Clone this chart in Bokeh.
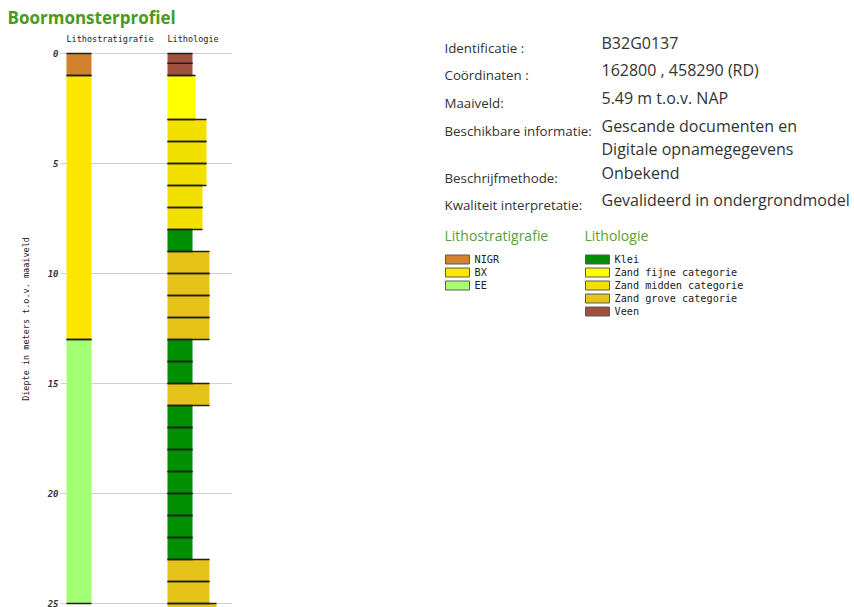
from bokeh.plotting import figure
from bokeh.layouts import row
from bokeh.models import Range1d, FixedTicker, ColumnDataSource
from bokeh.core.properties import value
from bokeh.embed import file_html
from bokeh.resources import INLINE

# ---------------- data ----------------
title_text = "Boormonsterprofiel"
col_headers = ["Lithostratigrafie", "Lithologie"]
y_label = "Diepte in meters t.o.v. maaiveld"
depth_ticks = [0, 5, 10, 15, 20, 25]

strat_units = ["NIGR", "BX", "EE"]
strat_colors = ["#d2822d", "#ffe600", "#a4ff74"]
strat_layer_unit = ["NIGR", "BX", "EE"]
strat_top = [0.0, 1.0, 13.0]
strat_bottom = [1.0, 13.0, 25.0]

litho_classes = ["Klei", "Zand fijne categorie", "Zand midden categorie",
                 "Zand grove categorie", "Veen"]
litho_colors = ["#008f00", "#ffff00", "#f2e000", "#e6c318", "#a0503f"]
litho_top = [0.0, 0.45, 1.0, 3.0, 4.0, 5.0, 6.0, 7.0, 8.0, 9.0, 10.0, 11.0, 12.0,
             13.0, 14.0, 15.0, 16.0, 17.0, 18.0, 19.0, 20.0, 21.0, 22.0, 23.0,
             24.0, 25.0]
litho_bottom = [0.45, 1.0, 3.0, 4.0, 5.0, 6.0, 7.0, 8.0, 9.0, 10.0, 11.0, 12.0,
                13.0, 14.0, 15.0, 16.0, 17.0, 18.0, 19.0, 20.0, 21.0, 22.0, 23.0,
                24.0, 25.0, 26.0]
litho_layer_class = (["Veen"] * 2 + ["Zand fijne categorie"] + ["Zand midden categorie"] * 5
                     + ["Klei"] + ["Zand grove categorie"] * 4 + ["Klei"] * 2
                     + ["Zand grove categorie"] + ["Klei"] * 7
                     + ["Zand grove categorie"] * 3)
# relative grain-size width of each layer as drawn
litho_grain_width = [25, 25, 28, 39, 39, 39, 35, 35, 25, 42, 42, 42, 42, 25, 25, 42,
                     25, 25, 25, 25, 25, 25, 25, 42, 42, 49]
strat_width = [25, 25, 25]

info_labels = ["Identificatie :", "Coördinaten :", "Maaiveld:",
               "Beschikbare informatie:", "Beschrijfmethode:",
               "Kwaliteit interpretatie:"]
info_values = ["B32G0137", "162800 , 458290 (RD)", "5.49 m t.o.v. NAP",
               "Gescande documenten en\nDigitale opnamegegevens", "Onbekend",
               "Gevalideerd in ondergrondmodel"]

# ---------------- styles ----------------
GREEN_TITLE = "#4a9a20"
GREEN_HEAD = "#5ba036"
MONO = "DejaVu Sans Mono"
SANS = "Open Sans"
PX = 22.0           # pixels per metre in the profile
TOP_PAD = 30        # frame top in page px
ZERO_Y = 53         # page y of depth 0
BOTTOM_Y = 607

strat_left = 6
litho_left = 107

# ---------------- left: profile ----------------
y_end = -(ZERO_Y - TOP_PAD) / PX
y_start = (BOTTOM_Y - ZERO_Y) / PX
p = figure(width=240, height=607, x_range=Range1d(0, 172),
           y_range=Range1d(y_start, y_end), output_backend="svg",
           toolbar_location=None, title=title_text,
           min_border_left=60, min_border_right=8, min_border_top=TOP_PAD,
           min_border_bottom=0)
p.title.text_font = SANS
p.title.text_font_size = "17px"
p.title.text_font_style = "bold"
p.title.text_color = GREEN_TITLE
p.title.align = "left"
p.title.offset = -53
p.title.standoff = 4
p.outline_line_color = None
p.xaxis.visible = False
p.xgrid.grid_line_color = None
p.ygrid.grid_line_color = "#d0d0d0"
p.ygrid.grid_line_width = 1
p.yaxis.ticker = FixedTicker(ticks=depth_ticks)
p.yaxis.axis_line_color = None
p.yaxis.major_tick_line_color = None
p.yaxis.minor_tick_line_color = None
p.yaxis.major_tick_out = 0
p.yaxis.major_tick_in = 0
p.yaxis.major_label_standoff = 2
p.yaxis.major_label_text_font = MONO
p.yaxis.major_label_text_font_size = "9px"
p.yaxis.major_label_text_font_style = "bold italic"
p.yaxis.major_label_text_color = "#333333"
p.yaxis.axis_label = y_label
p.yaxis.axis_label_text_font = MONO
p.yaxis.axis_label_text_font_size = "8.5px"
p.yaxis.axis_label_text_font_style = "normal"
p.yaxis.axis_label_text_color = "#222222"
p.yaxis.axis_label_standoff = 14

s_color = [strat_colors[strat_units.index(u)] for u in strat_layer_unit]
src_s = ColumnDataSource(dict(
    left=[strat_left] * len(strat_top),
    right=[strat_left + w for w in strat_width],
    top=strat_top, bottom=strat_bottom, color=s_color))
p.quad(left="left", right="right", top="top", bottom="bottom",
       fill_color="color", line_color=None, source=src_s)

l_color = [litho_colors[litho_classes.index(c)] for c in litho_layer_class]
src_l = ColumnDataSource(dict(
    left=[litho_left] * len(litho_top),
    right=[litho_left + w for w in litho_grain_width],
    top=litho_top, bottom=litho_bottom, color=l_color))
p.quad(left="left", right="right", top="top", bottom="bottom",
       fill_color="color", line_color=None, source=src_l)

# layer boundaries (top and bottom of every layer)
for src in (src_s, src_l):
    d = src.data
    p.segment(x0=d["left"], x1=d["right"], y0=d["top"], y1=d["top"],
              line_color="#1e1e1e", line_width=1.4)
    p.segment(x0=d["left"], x1=d["right"], y0=d["bottom"], y1=d["bottom"],
              line_color="#1e1e1e", line_width=1.4)

head_y = -(ZERO_Y - 38) / PX
p.text(x=[strat_left, litho_left], y=[head_y, head_y], text=col_headers,
       text_font=value(MONO), text_font_size=value("8.5px"),
       text_baseline="middle", text_align="left", text_color="#1a1a1a")

# ---------------- right: info & legend ----------------
X0 = 240
q = figure(width=614, height=607, x_range=Range1d(X0, 854),
           y_range=Range1d(607, TOP_PAD), output_backend="svg",
           toolbar_location=None, min_border_left=0, min_border_right=0,
           min_border_top=TOP_PAD, min_border_bottom=0)
q.axis.visible = False
q.grid.grid_line_color = None
q.outline_line_color = None

row_y = [47, 74, 102, 130, 177, 204]
q.text(x=[444] * len(info_labels), y=row_y, text=info_labels,
       text_font=value(SANS), text_font_size=value("13.3px"),
       text_baseline="middle", text_color="#333333")
vx, vy, vt = [], [], []
for yy, v in zip(row_y, info_values):
    for k, line in enumerate(v.split("\n")):
        vx.append(601)
        vy.append(yy - 5 + k * 23)
        vt.append(line)
q.text(x=vx, y=vy, text=vt, text_font=value(SANS), text_font_size=value("16px"),
       text_baseline="middle", text_color="#333333")

# legend headers
q.text(x=[444, 584], y=[235, 235], text=col_headers, text_font=value(SANS),
       text_font_size=value("14px"), text_baseline="middle", text_color=GREEN_HEAD)

def legend_block(xl, names, colors):
    ys = [259 + 13 * i for i in range(len(names))]
    q.quad(left=[xl] * len(names), right=[xl + 24] * len(names),
           top=[y - 4.5 for y in ys], bottom=[y + 4.5 for y in ys],
           fill_color=colors, line_color="#5a5a5a", line_width=1)
    q.text(x=[xl + 29] * len(names), y=ys, text=names, text_font=value(MONO),
           text_font_size=value("10.2px"), text_baseline="middle",
           text_color="#222222")

legend_block(445, strat_units, strat_colors)
legend_block(585, litho_classes, litho_colors)

layout = row(p, q)
open("out.html", "w").write(file_html(layout, INLINE))
